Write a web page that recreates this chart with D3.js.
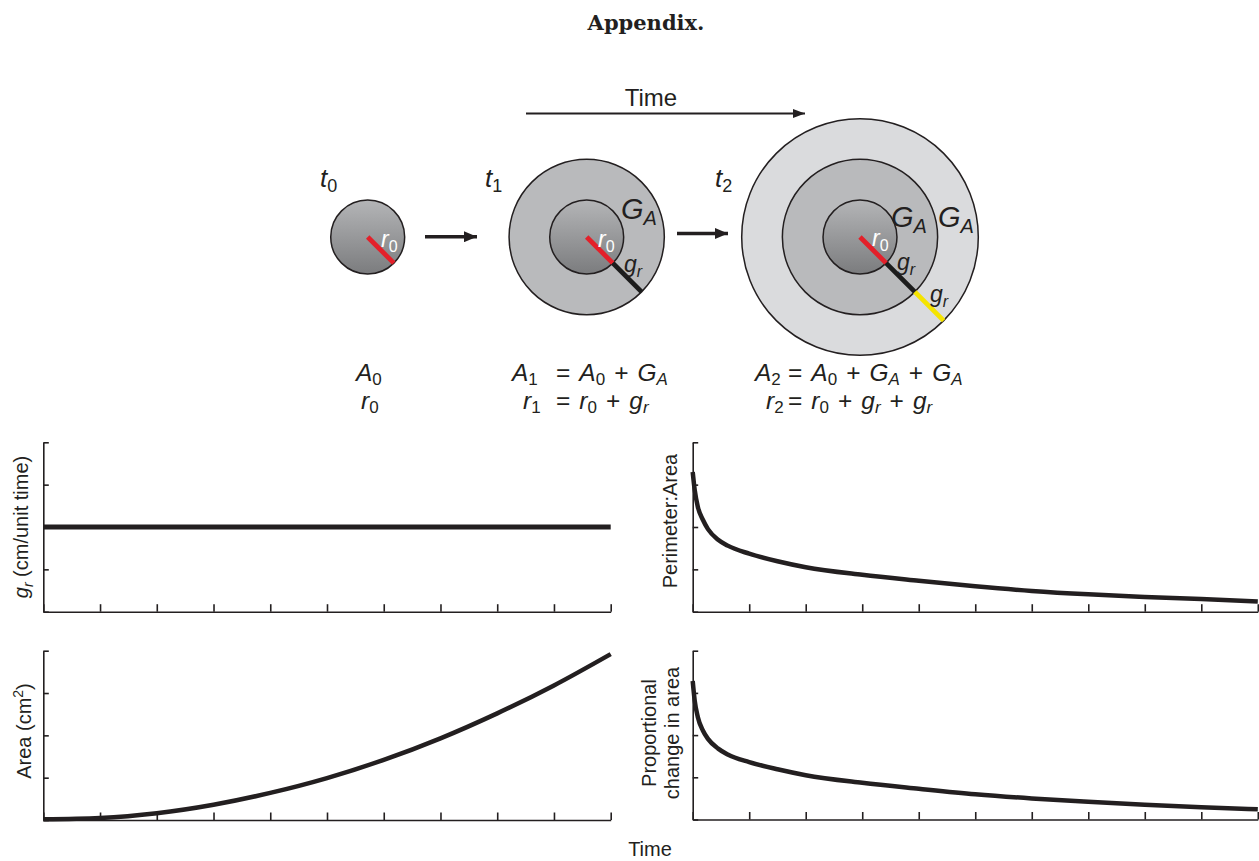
<!DOCTYPE html>
<html lang="en">
<head>
<meta charset="UTF-8">
<title>Appendix</title>
<script src="https://cdn.jsdelivr.net/npm/d3@7"></script>
<style>
  * { margin: 0; padding: 0; }
  body { background: #fff; width: 1259px; height: 861px; overflow: hidden; }
  svg { display: block; font-family: "Liberation Sans", Arial, sans-serif; }
</style>
</head>
<body>
<script>
// ---- data ----
const timeTicks = [0, 1, 2, 3, 4, 5, 6, 7, 8, 9, 10];
const valueTicks = [0, 1, 2, 3, 4];

// g_r is constant through time
const growthT = [0, 10];
const growthRate = [2, 2];

// area grows roughly with the square of time
const areaT = [0, 1, 2, 3, 4, 5, 6, 7, 8, 9, 10];
const areaValues = [0.02, 0.05, 0.16, 0.36, 0.64, 0.99, 1.42, 1.93, 2.52, 3.18, 3.92];

// both ratios fall steeply then flatten
const ratioT = [0, 0.035, 0.09, 0.18, 0.27, 0.45, 0.62, 1, 1.5, 2, 3, 4, 5, 6, 7, 8, 9, 10];
const perimeterArea = [3.30, 2.88, 2.48, 2.17, 1.95, 1.70, 1.56, 1.37, 1.19, 1.05, 0.87, 0.73, 0.60, 0.49, 0.41, 0.35, 0.30, 0.24];
const propChange = [3.28, 2.82, 2.43, 2.11, 1.91, 1.68, 1.54, 1.36, 1.19, 1.05, 0.87, 0.73, 0.60, 0.50, 0.42, 0.35, 0.29, 0.24];

// schematic: radius at each time step (r0, r0+gr, r0+2gr)
const stageNames = ["0", "1", "2"];
const stageRadii = [[1], [1, 2.1], [1, 2.1, 3.2]];

const ink = "#231f20";
const W = 1259, H = 861;

const svg = d3.select("body").append("svg").attr("width", W).attr("height", H);
const defs = svg.append("defs");

// rich text helper: parts = [{t, i, sub, sup, dx}]
function richText(g, x, y, parts, o) {
  const text = g.append("text").attr("x", x).attr("y", y)
    .attr("font-size", o.size).attr("fill", o.fill || ink);
  if (o.anchor) text.attr("text-anchor", o.anchor);
  if (o.transform) text.attr("transform", o.transform);
  let shifted = 0;
  parts.forEach(p => {
    const ts = text.append("tspan").text(p.t);
    if (p.i) ts.attr("font-style", "italic");
    if (p.dx) ts.attr("dx", p.dx);
    const target = p.sub ? (o.subShift || 6) : p.sup ? -(o.supShift || 7) : 0;
    if (target !== shifted) { ts.attr("dy", target - shifted); shifted = target; }
    if (p.sub || p.sup) ts.attr("font-size", o.subSize || o.size * 0.68);
  });
  return text;
}

// ---- title ----
svg.append("text").attr("x", 646).attr("y", 30).attr("text-anchor", "middle")
  .attr("font-family", "'DejaVu Serif', serif").attr("font-weight", "bold")
  .attr("font-size", 21).attr("fill", ink).text("Appendix.");

// ---- schematic ----
const grad = defs.append("linearGradient").attr("id", "core")
  .attr("x1", 0).attr("y1", 0).attr("x2", 0).attr("y2", 1);
grad.append("stop").attr("offset", "0%").attr("stop-color", "#b4b5b7");
grad.append("stop").attr("offset", "100%").attr("stop-color", "#7b7c7e");

const ringFill = ["url(#core)", "#b9babc", "#dadbdd"];
const segColor = ["#e3202a", "#1c1c1c", "#f5e400"];
const rScale = d3.scaleLinear().domain([0, 3.2]).range([0, 118.3]);
const stageX = [367.7, 586.7, 860];
const stageLabelX = [320, 485, 715];
const stageY = 237;

const arrowHead = (id, len, half) => {
  defs.append("marker").attr("id", id).attr("markerUnits", "userSpaceOnUse")
    .attr("viewBox", `0 ${-half} ${len} ${2 * half}`).attr("refX", len).attr("refY", 0)
    .attr("markerWidth", len).attr("markerHeight", 2 * half).attr("orient", "auto")
    .append("path").attr("d", `M0,${-half}L${len},0L0,${half}Z`).attr("fill", ink);
};
arrowHead("headBig", 13, 5.5);
arrowHead("headSmall", 12, 4.5);

const schem = svg.append("g");
stageRadii.forEach((radii, s) => {
  const g = schem.append("g").attr("transform", `translate(${stageX[s]},${stageY})`);
  radii.slice().reverse().forEach((r, k) => {
    const idx = radii.length - 1 - k;
    g.append("circle").attr("r", rScale(r)).attr("fill", ringFill[idx])
      .attr("stroke", ink).attr("stroke-width", 1.5);
  });
  const c = Math.SQRT1_2;
  radii.forEach((r, idx) => {
    const r0 = idx === 0 ? 0 : rScale(radii[idx - 1]);
    const r1 = rScale(r);
    g.append("line").attr("x1", r0 * c).attr("y1", r0 * c).attr("x2", r1 * c).attr("y2", r1 * c)
      .attr("stroke", segColor[idx]).attr("stroke-width", 4.8);
  });
  richText(schem, stageLabelX[s], 187, [{ t: "t", i: true }, { t: stageNames[s], sub: true }],
    { size: 26, subSize: 18, subShift: 5 });
});

// labels inside circles
const inCircle = (x, y, parts, fill) =>
  richText(schem, x, y, parts, { size: 23, subSize: 16, subShift: 5, fill: fill });
inCircle(381, 247, [{ t: "r", i: true }, { t: "0", sub: true }], "#ffffff");
inCircle(598, 247, [{ t: "r", i: true }, { t: "0", sub: true }], "#ffffff");
inCircle(872, 246, [{ t: "r", i: true }, { t: "0", sub: true }], "#ffffff");
inCircle(624, 272, [{ t: "g", i: true }, { t: "r", i: true, sub: true }]);
inCircle(897, 270, [{ t: "g", i: true }, { t: "r", i: true, sub: true }]);
inCircle(930, 302, [{ t: "g", i: true }, { t: "r", i: true, sub: true }]);
const gaLabel = (x, y) => richText(schem, x, y, [{ t: "G", i: true }, { t: "A", i: true, sub: true }],
  { size: 29, subSize: 20, subShift: 6 });
gaLabel(621, 219);
gaLabel(891, 227);
gaLabel(938, 227);

// arrows
schem.append("line").attr("x1", 425).attr("y1", 236.7).attr("x2", 477).attr("y2", 236.7)
  .attr("stroke", ink).attr("stroke-width", 3.5).attr("marker-end", "url(#headBig)");
schem.append("line").attr("x1", 677).attr("y1", 233.5).attr("x2", 728).attr("y2", 233.5)
  .attr("stroke", ink).attr("stroke-width", 3.5).attr("marker-end", "url(#headBig)");
schem.append("line").attr("x1", 526).attr("y1", 113.5).attr("x2", 805).attr("y2", 113.5)
  .attr("stroke", ink).attr("stroke-width", 1.8).attr("marker-end", "url(#headSmall)");
schem.append("text").attr("x", 651).attr("y", 106).attr("text-anchor", "middle")
  .attr("font-size", 24).attr("fill", ink).text("Time");

// equations: left-hand side and right-hand side as separate texts
const eq = (x, y, parts) => richText(schem, x, y, parts, { size: 24.5, subSize: 17, subShift: 4 });
const plus = { t: "+", dx: 9 };
const after = (p) => Object.assign({ dx: 9 }, p);
const yA = 381, yR = 409;
eq(356, yA, [{ t: "A", i: true }, { t: "0", sub: true }]);
eq(361, yR, [{ t: "r", i: true }, { t: "0", sub: true }]);

eq(512, yA, [{ t: "A", i: true }, { t: "1", sub: true }]);
eq(556, yA, [{ t: "=" }, after({ t: "A", i: true }), { t: "0", sub: true }, plus,
  after({ t: "G", i: true }), { t: "A", i: true, sub: true }]);
eq(523, yR, [{ t: "r", i: true }, { t: "1", sub: true }]);
eq(556, yR, [{ t: "=" }, after({ t: "r", i: true }), { t: "0", sub: true }, plus,
  after({ t: "g", i: true }), { t: "r", i: true, sub: true }]);

eq(755, yA, [{ t: "A", i: true }, { t: "2", sub: true }]);
eq(788, yA, [{ t: "=" }, after({ t: "A", i: true }), { t: "0", sub: true }, plus,
  after({ t: "G", i: true }), { t: "A", i: true, sub: true }, plus,
  after({ t: "G", i: true }), { t: "A", i: true, sub: true }]);
eq(766, yR, [{ t: "r", i: true }, { t: "2", sub: true }]);
eq(788, yR, [{ t: "=" }, after({ t: "r", i: true }), { t: "0", sub: true }, plus,
  after({ t: "g", i: true }), { t: "r", i: true, sub: true }, plus,
  after({ t: "g", i: true }), { t: "r", i: true, sub: true }]);

// ---- small panels ----
const panels = [
  { x0: 43.3, x1: 610.7, y0: 611.7, y1: 442.3, t: growthT, v: growthRate, w: 5 },
  { x0: 43.3, x1: 610.7, y0: 820, y1: 650.7, t: areaT, v: areaValues, w: 4.5 },
  { x0: 692.7, x1: 1257.8, y0: 611.7, y1: 442.3, t: ratioT, v: perimeterArea, w: 4.5 },
  { x0: 692.7, x1: 1257.8, y0: 819.5, y1: 650.7, t: ratioT, v: propChange, w: 4.5 }
];

panels.forEach(p => {
  const x = d3.scaleLinear().domain([0, 10]).range([p.x0, p.x1]);
  const y = d3.scaleLinear().domain([0, 4]).range([p.y0, p.y1]);
  const g = svg.append("g");

  const line = d3.line().x((d, i) => x(p.t[i])).y(d => y(d)).curve(d3.curveMonotoneX);
  g.append("path").datum(p.v).attr("d", line).attr("fill", "none")
    .attr("stroke", ink).attr("stroke-width", p.w).attr("stroke-linejoin", "round");

  const xa = g.append("g").attr("transform", `translate(0,${p.y0})`)
    .call(d3.axisBottom(x).tickValues(timeTicks).tickSize(-7.5).tickSizeOuter(0).tickFormat(""));
  const ya = g.append("g").attr("transform", `translate(${p.x0},0)`)
    .call(d3.axisLeft(y).tickValues(valueTicks).tickSize(-5.5).tickSizeOuter(0).tickFormat(""));
  [xa, ya].forEach(a => {
    a.select(".domain").attr("stroke", ink).attr("stroke-width", 1.6);
    a.selectAll(".tick line").attr("stroke", ink).attr("stroke-width", 1.6);
  });
});

// axis titles
const yTitle = (x, y, parts) => richText(svg, x, y, parts,
  { size: 20, subSize: 14, subShift: 5, supShift: 8, anchor: "middle", transform: `rotate(-90,${x},${y})` });
yTitle(28, 527, [{ t: "g", i: true }, { t: "r", i: true, sub: true }, { t: " (cm/unit time)" }]);
yTitle(31, 731, [{ t: "Area (cm" }, { t: "2", sup: true }, { t: ")" }]);
yTitle(677, 521, [{ t: "Perimeter:Area" }]);
yTitle(656, 733, [{ t: "Proportional" }]);
yTitle(679, 733, [{ t: "change in area" }]);

svg.append("text").attr("x", 650).attr("y", 856).attr("text-anchor", "middle")
  .attr("font-size", 20).attr("fill", ink).text("Time");
</script>
</body>
</html>
